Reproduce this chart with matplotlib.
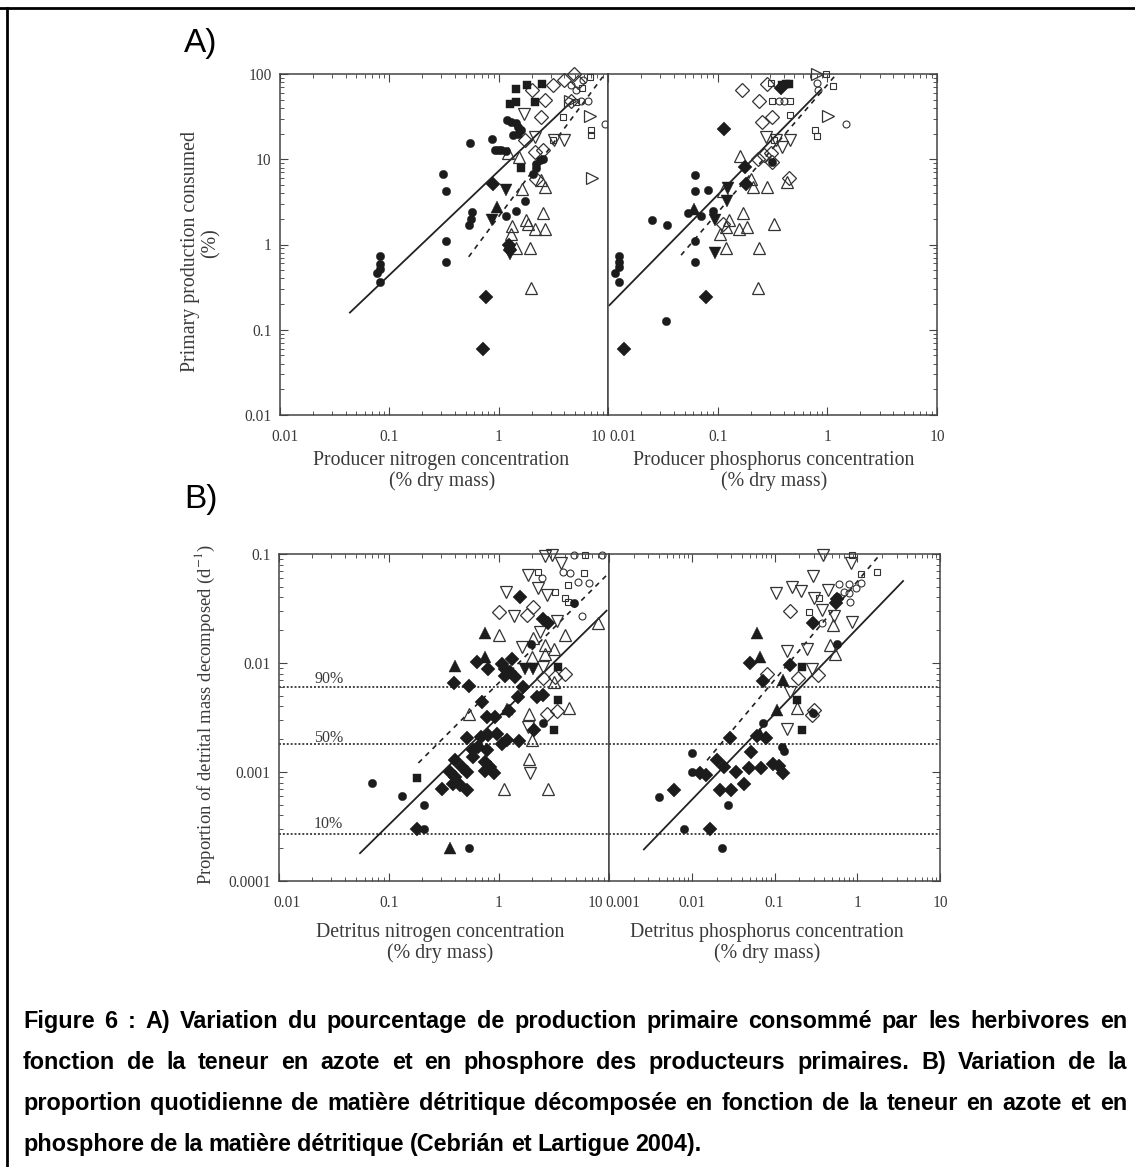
import matplotlib
matplotlib.use("Agg")
import matplotlib.pyplot as plt
from matplotlib.lines import Line2D
from matplotlib.ticker import LogLocator, NullFormatter, FixedLocator, FixedFormatter
from matplotlib.transforms import ScaledTranslation

W, H = 1135, 1167

# ---------- Panel A, nitrogen ----------
an_fc_x = [.083,.083,.083,.077,.083,.33,.33,.33,.31,.55,.875,.92,.99,1.06,1.16,.57,.555,.53,1.17,1.45,1.75,1.19,1.31,1.45,1.5,1.6,1.5,1.35,2.2,2.37,2.54,2.2,2.06]
an_fc_y = [.73,.59,.52,.46,.365,.63,1.11,4.2,6.7,15.6,17.2,12.9,12.9,12.9,12.6,2.4,2.0,1.69,2.17,2.5,3.25,29,27.5,26.3,24,22,20,19,8.9,9.75,10.2,7.8,6.8]
an_fs_x = [1.45,1.81,2.5,1.26,1.45,2.13,1.61]
an_fs_y = [66,75,77,45,47,47,7.8]
an_fd_x = [.89,.77,.72,1.24,1.28]
an_fd_y = [5.1,.24,.06,.98,.86]
an_fu_x = [.97]
an_fu_y = [2.77]
an_fv_x = [1.16,.875,1.28]
an_fv_y = [4.4,1.96,.78]
an_ou_x = [1.63,2.63,2.45,2.54,1.79,1.85,2.13,2.63,1.32,1.31,1.43,1.95,1.99,1.22,1.52]
an_ou_y = [4.5,4.7,5.7,2.37,1.96,1.76,1.54,1.54,1.66,1.32,.9,.9,.305,11.7,10.7]
an_ov_x = [1.7,2.16,3.2,4.0]
an_ov_y = [34.4,18.3,16.7,16.7]
an_od_x = [2.0,3.13,2.63,2.45,1.73,2.54,2.13,2.2,4.84,4.0,5.3,4.6]
an_od_y = [65,74,49,31.5,16.7,12.8,12.2,5.9,100,85,81,48.5]
an_os_x = [6.8,5.8,7.0,7.0,3.87,5.1,3.13]
an_os_y = [93,68,22,19,31.5,47,16.7]
an_oc_x = [6.5,9.3,5.7,5.1,4.6,5.9]
an_oc_y = [48.5,26,48.5,65,74,85]
an_or_x = [6.9,7.1,4.45]
an_or_y = [32,6.05,48.5]
an_solid_x = [.0436,4.77]
an_solid_y = [.159,49]
an_dash_x = [.532,8.97]
an_dash_y = [.717,93]

# ---------- Panel A, phosphorus ----------
ap_fc_x = [.0125,.0125,.0125,.0117,.0125,.062,.062,.081,.054,.07,.0253,.0344,.062,.062,.0337,.091,.316]
ap_fc_y = [.73,.63,.55,.46,.365,6.6,4.2,4.4,2.37,2.17,1.96,1.69,1.11,.63,.128,2.5,9.3]
ap_fs_x = [.42,.45,.39]
ap_fs_y = [76,76,74]
ap_fd_x = [.115,.179,.18,.079,.0139,.377]
ap_fd_y = [22.8,8.15,5.1,.24,.06,68]
ap_fu_x = [.0614]
ap_fu_y = [2.64]
ap_fv_x = [.123,.122,.095,.095]
ap_fv_y = [4.54,3.2,1.96,.8]
ap_ou_x = [.16,.2,.21,.28,.169,.128,.327,.184,.157,.119,.105,.119,.24,.234,.427,.111]
ap_ou_y = [10.9,5.9,4.67,4.67,2.37,1.96,1.76,1.61,1.54,1.61,1.32,.9,.9,.305,5.4,4.2]
ap_ov_x = [.275,.455,.39,.34]
ap_ov_y = [18,16.7,14,16.7]
ap_od_x = [.166,.279,.236,.316,.253,.231,.265,.305,.316,.45,.111]
ap_od_y = [65,76,48.5,31.5,27.5,10.2,11.2,11.9,9.3,6.1,1.76]
ap_os_x = [.966,1.13,.78,.81,.455,.327,.305,.316,.455]
ap_os_y = [100,72,22,18.8,48.5,17,78,48.5,33]
ap_oc_x = [1.49,.81,.364,.404,.82]
ap_oc_y = [26,78,48.5,48.5,65]
ap_or_x = [1.01,.81]
ap_or_y = [32,100]
ap_solid_x = [.0103,.87]
ap_solid_y = [.194,65]
ap_dash_x = [.0464,1.19]
ap_dash_y = [.75,97]

# ---------- Panel B, nitrogen ----------
bn_fc_x = [.0705,.13,.21,.21,.533,2.53,4.84,1.94]
bn_fc_y = [.00079,.0006,.0005,.0003,.0002,.00282,.0352,.0149]
bn_fs_x = [.18,3.14,3.42,3.42]
bn_fs_y = [.00089,.00245,.00462,.0092]
bn_fu_x = [.746,.398,.359,.746,1.19]
bn_fu_y = [.0187,.0094,.0002,.0114,.00375]
bn_fv_x = [2.05,1.72]
bn_fv_y = [.0089,.0089]
bn_fd_x = [1.55,2.53,2.81,.627,.789,.39,.533,1.06,1.3,1.13,1.26,1.13,1.4,1.66,1.5,2.2,2.53,.705,.783,.92,1.23,2.08,.508,.681,.8,.953,1.06,1.17,1.52,.585,.649,.773,.585,.398,.458,.508,.359,.398,.385,.442,.508,.301,.746,.828,.746,.9,.179]
bn_fd_y = [.0406,.0256,.0231,.0103,.0089,.00649,.00618,.0098,.0108,.0089,.0083,.0076,.00748,.00605,.0049,.0049,.00514,.00435,.00321,.00321,.00364,.00242,.00203,.0021,.00218,.00222,.0018,.00196,.00192,.00158,.0017,.00158,.00138,.00128,.00111,.001,.001,.0009,.00078,.00076,.00069,.0007,.00124,.00111,.00102,.00098,.0003]
bn_ou_x = [1,3.98,2.62,3.18,2.62,2.05,1.98,.537,1.89,4.36,1.89,1.12,2.77,8,3.18,1.98]
bn_ou_y = [.018,.018,.0146,.0134,.0122,.0168,.0114,.00344,.00344,.00383,.00131,.0007,.0007,.0231,.00672,.00196]
bn_ov_x = [2.62,3.01,3.66,1.85,2.28,2.71,1.16,1.38,3.34,2.36,1.63,1.85,1.91,2.53]
bn_ov_y = [.096,.098,.083,.0641,.0484,.042,.045,.027,.0243,.0194,.0141,.0026,.00097,.0092]
bn_od_x = [1,3.98,3.23,2.53,2.71,3.34,1.79,2.05]
bn_od_y = [.0295,.008,.00748,.00721,.00344,.00364,.0275,.0328]
bn_os_x = [2.28,5.93,6.05,4.27,3.23,3.98,4.27]
bn_os_y = [.0689,.0674,.098,.0519,.045,.0392,.0365]
bn_oc_x = [3.84,4.42,5.26,6.62,5.65,4.81,8.58,2.44]
bn_oc_y = [.0689,.0664,.0557,.0538,.027,.098,.098,.0597]
bn_solid_x = [.0545,9.5]
bn_solid_y = [.00018,.0302]
bn_dash_x = [.185,9.9]
bn_dash_y = [.00121,.0664]

# ---------- Panel B, phosphorus ----------
bp_fc_x = [.004,.00816,.0232,.0272,.0101,.0101,.0736,.1225,.13,.574,.564,.295]
bp_fc_y = [.00059,.0003,.0002,.0005,.00148,.00099,.00279,.0017,.00156,.0149,.0406,.00349]
bp_fs_x = [.213,.186,.217]
bp_fs_y = [.0092,.00462,.00245]
bp_fu_x = [.0612,.0672,.126,.107,.0672]
bp_fu_y = [.0187,.0114,.00697,.00369,.00225]
bp_fd_x = [.0509,.152,.0717,.29,.564,.553,.0287,.0612,.0787,.0524,.0202,.0243,.0342,.0127,.015,.0495,.0691,.0946,.114,.126,.0423,.0221,.0298,.00618,.0165]
bp_fd_y = [.01,.0095,.00682,.0231,.039,.0352,.00203,.00215,.00206,.00151,.00128,.00111,.00099,.00098,.00093,.00108,.00108,.00118,.00113,.00097,.00077,.00068,.00068,.00068,.0003]
bp_ou_x = [.538,.186,.514,.469]
bp_ou_y = [.0122,.00383,.0223,.0146]
bp_ov_x = [.104,.162,.21,.295,.447,.382,.832,.87,.3,.372,.528,.141,.25,.282,.155,.143]
bp_ov_y = [.0441,.0501,.0457,.0628,.0467,.098,.083,.0239,.0392,.0306,.027,.0129,.0134,.0089,.00537,.0025]
bp_od_x = [.155,.194,.339,.3,.282,.0809]
bp_od_y = [.0302,.00736,.00774,.00369,.00332,.008]
bp_os_x = [.855,1.71,1.1,.264,.348]
bp_os_y = [.098,.0679,.065,.0295,.0392]
bp_oc_x = [.601,.801,1.1,.964,.801,.69,.816,.372]
bp_oc_y = [.0526,.0526,.0538,.049,.0435,.045,.0365,.0231]
bp_solid_x = [.00264,3.58]
bp_solid_y = [.000195,.0565]
bp_dash_x = [.0153,1.79]
bp_dash_y = [.00128,.0946]

# ---------- Reference levels and tick labels ----------
pct_levels = [.006,.0018,.00027]
pct_labels = ["90%","50%","10%"]
pct_label_y = [.00706,.00207,.000336]

a_x_ticks = [.01,.1,1,10]
a_x_labels = ["0.01","0.1","1","10"]
a_y_ticks = [.01,.1,1,10,100]
a_y_labels = ["0.01","0.1","1","10","100"]
b_xn_ticks = [.01,.1,1,10]
b_xn_labels = ["0.01","0.1","1","10"]
b_xp_ticks = [.001,.01,.1,1,10]
b_xp_labels = ["0.001","0.01","0.1","1","10"]
b_y_ticks = [.0001,.001,.01,.1]
b_y_labels = ["0.0001","0.001","0.01","0.1"]

caption_lines = [
    "Figure 6 : A) Variation du pourcentage de production primaire consommé par les herbivores en",
    "fonction de la teneur en azote et en phosphore des producteurs primaires. B) Variation de la",
    "proportion quotidienne de matière détritique décomposée en fonction de la teneur en azote et en",
    "phosphore de la matière détritique (Cebrián et Lartigue 2004).",
]

# ---------- Styles ----------
INK = "#1c1c1c"
TXT = "#3a3a3a"
SERIF = "Liberation Serif"
STY = {
    "ou": dict(marker="^", ms=8.2, mfc="none", mec="#333333", mew=0.9),
    "ov": dict(marker="v", ms=8.2, mfc="none", mec="#333333", mew=0.9),
    "or": dict(marker=">", ms=8.2, mfc="none", mec="#333333", mew=0.9),
    "od": dict(marker="D", ms=7.0, mfc="none", mec="#333333", mew=0.9),
    "os": dict(marker="s", ms=4.6, mfc="none", mec="#333333", mew=0.8),
    "oc": dict(marker="o", ms=5.0, mfc="none", mec="#333333", mew=0.8),
    "fc": dict(marker="o", ms=6.0, mfc=INK, mec=INK, mew=0.3),
    "fs": dict(marker="s", ms=5.6, mfc=INK, mec=INK, mew=0.3),
    "fd": dict(marker="D", ms=6.8, mfc=INK, mec=INK, mew=0.3),
    "fu": dict(marker="^", ms=8.0, mfc=INK, mec=INK, mew=0.3),
    "fv": dict(marker="v", ms=8.0, mfc=INK, mec=INK, mew=0.3),
}
ORDER = ["ou","ov","or","od","os","oc","fc","fs","fd","fu","fv"]

fig = plt.figure(figsize=(W/100, H/100), dpi=100, facecolor="white")


def fx(x):
    return x/W


def fy(y):
    return 1 - y/H


def make_ax(l, r, t, b, xlim, ylim, xticks, xlabels, yticks, ylabels, side):
    ax = fig.add_axes([fx(l), fy(b), (r-l)/W, (b-t)/H])
    ax.set_xscale("log"); ax.set_yscale("log")
    ax.set_xlim(xlim); ax.set_ylim(ylim)
    ax.xaxis.set_major_locator(FixedLocator(xticks))
    ax.xaxis.set_major_formatter(FixedFormatter(xlabels))
    ax.yaxis.set_major_locator(FixedLocator(yticks))
    if side == "left":
        ax.yaxis.set_major_formatter(FixedFormatter(ylabels))
    else:
        ax.yaxis.set_major_formatter(NullFormatter())
    ax.xaxis.set_minor_locator(LogLocator(base=10, subs=range(2, 10), numticks=12))
    ax.yaxis.set_minor_locator(LogLocator(base=10, subs=range(2, 10), numticks=12))
    ax.xaxis.set_minor_formatter(NullFormatter())
    ax.yaxis.set_minor_formatter(NullFormatter())
    ax.tick_params(which="major", direction="in", length=6, width=0.8, color="#444444",
                   top=True, left=side == "left", right=side == "right")
    ax.tick_params(which="minor", direction="in", length=3, width=0.7, color="#555555",
                   top=True, left=side == "left", right=side == "right")
    ax.tick_params(axis="x", which="major", pad=10, labelsize=11.2, labelcolor=TXT)
    ax.tick_params(axis="y", which="major", pad=6, labelsize=11.2, labelcolor=TXT)
    for lab in ax.get_xticklabels() + ax.get_yticklabels():
        lab.set_family(SERIF)
    for s in ax.spines.values():
        s.set_color("#444444"); s.set_linewidth(1.1)
    return ax


def shift_xlabel(ax, idx, dx):
    lab = ax.get_xticklabels()[idx]
    lab.set_transform(lab.get_transform() + ScaledTranslation(dx/100, 0, fig.dpi_scale_trans))


def draw(ax, groups, solid, dash):
    for key in ORDER:
        if key in groups:
            xs, ys = groups[key]
            ax.plot(xs, ys, ls="none", clip_on=False, zorder=3, **STY[key])
    ax.plot(solid[0], solid[1], color="#222222", lw=1.3, zorder=2.5)
    ax.plot(dash[0], dash[1], color="#222222", lw=1.2, ls=(0, (3, 3)), zorder=2.5)


A_T, A_B, B_T, B_B = 74, 415, 554, 881

ax1 = make_ax(280, 608, A_T, A_B, (.01, 10), (.01, 100), a_x_ticks, a_x_labels, a_y_ticks, a_y_labels, "left")
ax2 = make_ax(608, 937, A_T, A_B, (.01, 10), (.01, 100), a_x_ticks, a_x_labels, a_y_ticks, [], "right")
ax3 = make_ax(279, 609, B_T, B_B, (.01, 10), (.0001, .1), b_xn_ticks, b_xn_labels, b_y_ticks, b_y_labels, "left")
ax4 = make_ax(609, 940, B_T, B_B, (.001, 10), (.0001, .1), b_xp_ticks, b_xp_labels, b_y_ticks, [], "right")

draw(ax1, dict(fc=(an_fc_x, an_fc_y), fs=(an_fs_x, an_fs_y), fd=(an_fd_x, an_fd_y), fu=(an_fu_x, an_fu_y),
               fv=(an_fv_x, an_fv_y), ou=(an_ou_x, an_ou_y), ov=(an_ov_x, an_ov_y), od=(an_od_x, an_od_y),
               os=(an_os_x, an_os_y), oc=(an_oc_x, an_oc_y), **{"or": (an_or_x, an_or_y)}),
     (an_solid_x, an_solid_y), (an_dash_x, an_dash_y))
draw(ax2, dict(fc=(ap_fc_x, ap_fc_y), fs=(ap_fs_x, ap_fs_y), fd=(ap_fd_x, ap_fd_y), fu=(ap_fu_x, ap_fu_y),
               fv=(ap_fv_x, ap_fv_y), ou=(ap_ou_x, ap_ou_y), ov=(ap_ov_x, ap_ov_y), od=(ap_od_x, ap_od_y),
               os=(ap_os_x, ap_os_y), oc=(ap_oc_x, ap_oc_y), **{"or": (ap_or_x, ap_or_y)}),
     (ap_solid_x, ap_solid_y), (ap_dash_x, ap_dash_y))
draw(ax3, dict(fc=(bn_fc_x, bn_fc_y), fs=(bn_fs_x, bn_fs_y), fd=(bn_fd_x, bn_fd_y), fu=(bn_fu_x, bn_fu_y),
               fv=(bn_fv_x, bn_fv_y), ou=(bn_ou_x, bn_ou_y), ov=(bn_ov_x, bn_ov_y), od=(bn_od_x, bn_od_y),
               os=(bn_os_x, bn_os_y), oc=(bn_oc_x, bn_oc_y)),
     (bn_solid_x, bn_solid_y), (bn_dash_x, bn_dash_y))
draw(ax4, dict(fc=(bp_fc_x, bp_fc_y), fs=(bp_fs_x, bp_fs_y), fd=(bp_fd_x, bp_fd_y), fu=(bp_fu_x, bp_fu_y),
               ou=(bp_ou_x, bp_ou_y), ov=(bp_ov_x, bp_ov_y), od=(bp_od_x, bp_od_y),
               os=(bp_os_x, bp_os_y), oc=(bp_oc_x, bp_oc_y)),
     (bp_solid_x, bp_solid_y), (bp_dash_x, bp_dash_y))

for ax in (ax3, ax4):
    for lev in pct_levels:
        ax.axhline(lev, color="#444444", lw=1.4, ls=(0, (1, 1)), zorder=1.5)
for lab, ly in zip(pct_labels, pct_label_y):
    ax3.text(.0283, ly, lab, family=SERIF, fontsize=11.5, color=TXT, ha="center", va="center")

# edge tick labels are nudged off the shared axis, as in the reference
shift_xlabel(ax1, 0, 5)
shift_xlabel(ax1, 3, -10)
shift_xlabel(ax2, 0, 15)
shift_xlabel(ax3, 0, 8)
shift_xlabel(ax3, 3, -14)
shift_xlabel(ax4, 0, 14)

# axis titles
LBL = dict(family=SERIF, fontsize=14.3, color=TXT, ha="center", va="center")
fig.text(fx(441), fy(461), "Producer nitrogen concentration", **LBL)
fig.text(fx(442), fy(481), "(% dry mass)", **LBL)
fig.text(fx(774), fy(461), "Producer phosphorus concentration", **LBL)
fig.text(fx(774), fy(481), "(% dry mass)", **LBL)
fig.text(fx(440), fy(932), "Detritus nitrogen concentration", **LBL)
fig.text(fx(440), fy(953), "(% dry mass)", **LBL)
fig.text(fx(767), fy(932), "Detritus phosphorus concentration", **LBL)
fig.text(fx(767), fy(953), "(% dry mass)", **LBL)
fig.text(fx(190), fy(252), "Primary production consumed", rotation=90, **LBL)
fig.text(fx(211), fy(243), "(%)", rotation=90, **LBL)
fig.text(fx(205), fy(714), "Proportion of detrital mass decomposed (d$^{-1}$)", rotation=90,
         math_fontfamily="stix", family=SERIF, fontsize=13.4, color=TXT, ha="center", va="center")

# panel letters
fig.text(fx(184), fy(52), "A)", family="Liberation Sans", fontsize=24, color="black", ha="left", va="baseline")
fig.text(fx(184), fy(508), "B)", family="Liberation Sans", fontsize=24, color="black", ha="left", va="baseline")

# top and left frame of the page
fig.add_artist(Line2D([0, 1], [fy(7.5), fy(7.5)], color="black", lw=2, transform=fig.transFigure))
fig.add_artist(Line2D([fx(7), fx(7)], [0, fy(7.5)], color="black", lw=2, transform=fig.transFigure))

# justified caption
CAP = dict(family="Liberation Sans", fontweight="bold", fontsize=16.8, color="black", va="baseline", ha="left")
renderer = fig.canvas.get_renderer()
X0, X1 = 23, 1127
BASE = [1028, 1069, 1110, 1151]
for i, line in enumerate(caption_lines):
    words = line.split(" ")
    arts = [fig.text(0, fy(BASE[i]), w, **CAP) for w in words]
    widths = [a.get_window_extent(renderer).width for a in arts]
    if i < 3:
        gap = (X1 - X0 - sum(widths)) / (len(words) - 1)
    else:
        gap = 6
    x = X0
    for a, wd in zip(arts, widths):
        a.set_x(fx(x))
        x += wd + gap

fig.savefig("out.png", dpi=100, facecolor="white")
